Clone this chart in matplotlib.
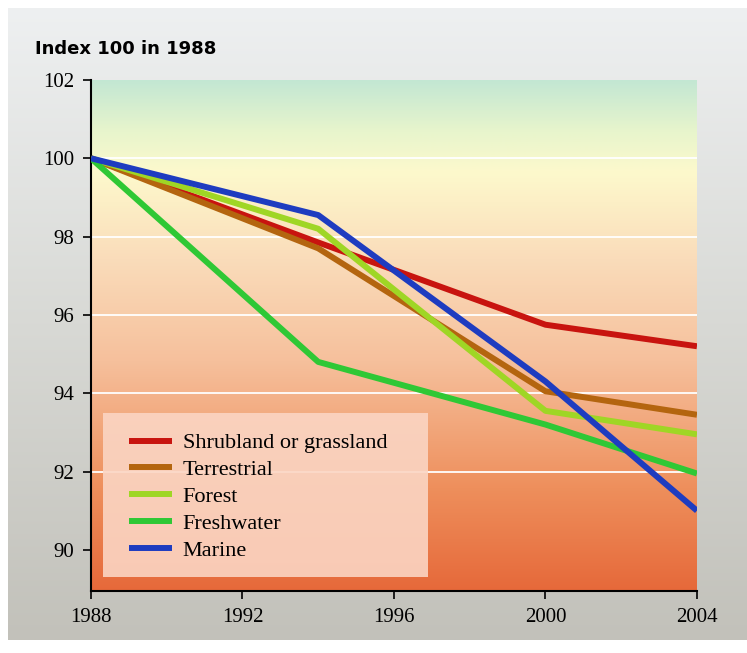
import numpy as np
import matplotlib.pyplot as plt
from matplotlib.colors import LinearSegmentedColormap
from matplotlib.patches import Rectangle

# data (index 100 in 1988)
years = [1988, 1994, 2000, 2004]
shrubland = [100, 97.85, 95.75, 95.2]
terrestrial = [100, 97.7, 94.05, 93.45]
forest = [100, 98.2, 93.55, 92.95]
freshwater = [100, 94.8, 93.2, 91.95]
marine = [100, 98.55, 94.3, 91.0]

names = ["Shrubland or grassland", "Terrestrial", "Forest", "Freshwater", "Marine"]
series = [shrubland, terrestrial, forest, freshwater, marine]
colors = ["#c8140f", "#b4650f", "#9fd625", "#2fc835", "#1e3cc0"]

yticks = [90, 92, 94, 96, 98, 100, 102]
xticks = [1988, 1992, 1996, 2000, 2004]

fig = plt.figure(figsize=(7.47, 6.53), dpi=100)
fig.patch.set_facecolor("white")

# outer grey panel with vertical gradient
bg = fig.add_axes([0.0107, 0.02, 0.99, 0.968], zorder=-2)
bg_cmap = LinearSegmentedColormap.from_list("bg", ["#c2c1ba", "#d8d9d5", "#eef0f1"])
bg.imshow(np.linspace(0, 1, 256).reshape(-1, 1), cmap=bg_cmap, aspect="auto",
          origin="lower", extent=[0, 1, 0, 1])
bg.axis("off")

ax = fig.add_axes([0.1218, 0.095, 0.8112, 0.7825])
ax.set_xlim(1988, 2004)
ax.set_ylim(88.95, 102)

# plot area gradient
grad_cmap = LinearSegmentedColormap.from_list("plot", [
    (0.0, "#e6693a"), (0.2, "#ee8f5c"), (0.45, "#f6c09c"),
    (0.65, "#fadcba"), (0.82, "#fdf9cc"), (0.9, "#e8f5cc"), (1.0, "#c3e7d3")])
ax.imshow(np.linspace(0, 1, 256).reshape(-1, 1), cmap=grad_cmap, aspect="auto",
          origin="lower", extent=[1988, 2004, 88.95, 102], zorder=0)

for yv in yticks[1:-1]:
    ax.axhline(yv, color="white", lw=1.3, zorder=1)

for name, vals, c in zip(names, series, colors):
    ax.plot(years, vals, color=c, lw=4.3, label=name, zorder=3,
            solid_joinstyle="round", solid_capstyle="butt")

ax.set_xticks(xticks)
ax.set_yticks(yticks)
ax.tick_params(direction="out", length=6, width=1.2, labelsize=15, pad=6)
for lab in ax.get_xticklabels() + ax.get_yticklabels():
    lab.set_family("Liberation Serif")
ax.spines["top"].set_visible(False)
ax.spines["right"].set_visible(False)
ax.spines["left"].set_linewidth(1.5)
ax.spines["bottom"].set_linewidth(1.5)

# legend box background
ax.add_patch(Rectangle((0.0198, 0.0274), 0.536, 0.321, transform=ax.transAxes,
                       facecolor="#fbd5c3", alpha=0.9, edgecolor="none", zorder=4))
leg = ax.legend(loc="lower left", bbox_to_anchor=(0.036, 0.027),
                prop={"family": "Liberation Serif", "size": 16},
                handlelength=1.9, handletextpad=0.5, labelspacing=0.28,
                borderpad=0.75, borderaxespad=0, frameon=False)
leg.set_zorder(5)

fig.text(0.047, 0.918, "Index 100 in 1988", fontsize=13, fontweight="bold",
         family="DejaVu Sans", va="baseline")

plt.savefig("out.png", dpi=100)
